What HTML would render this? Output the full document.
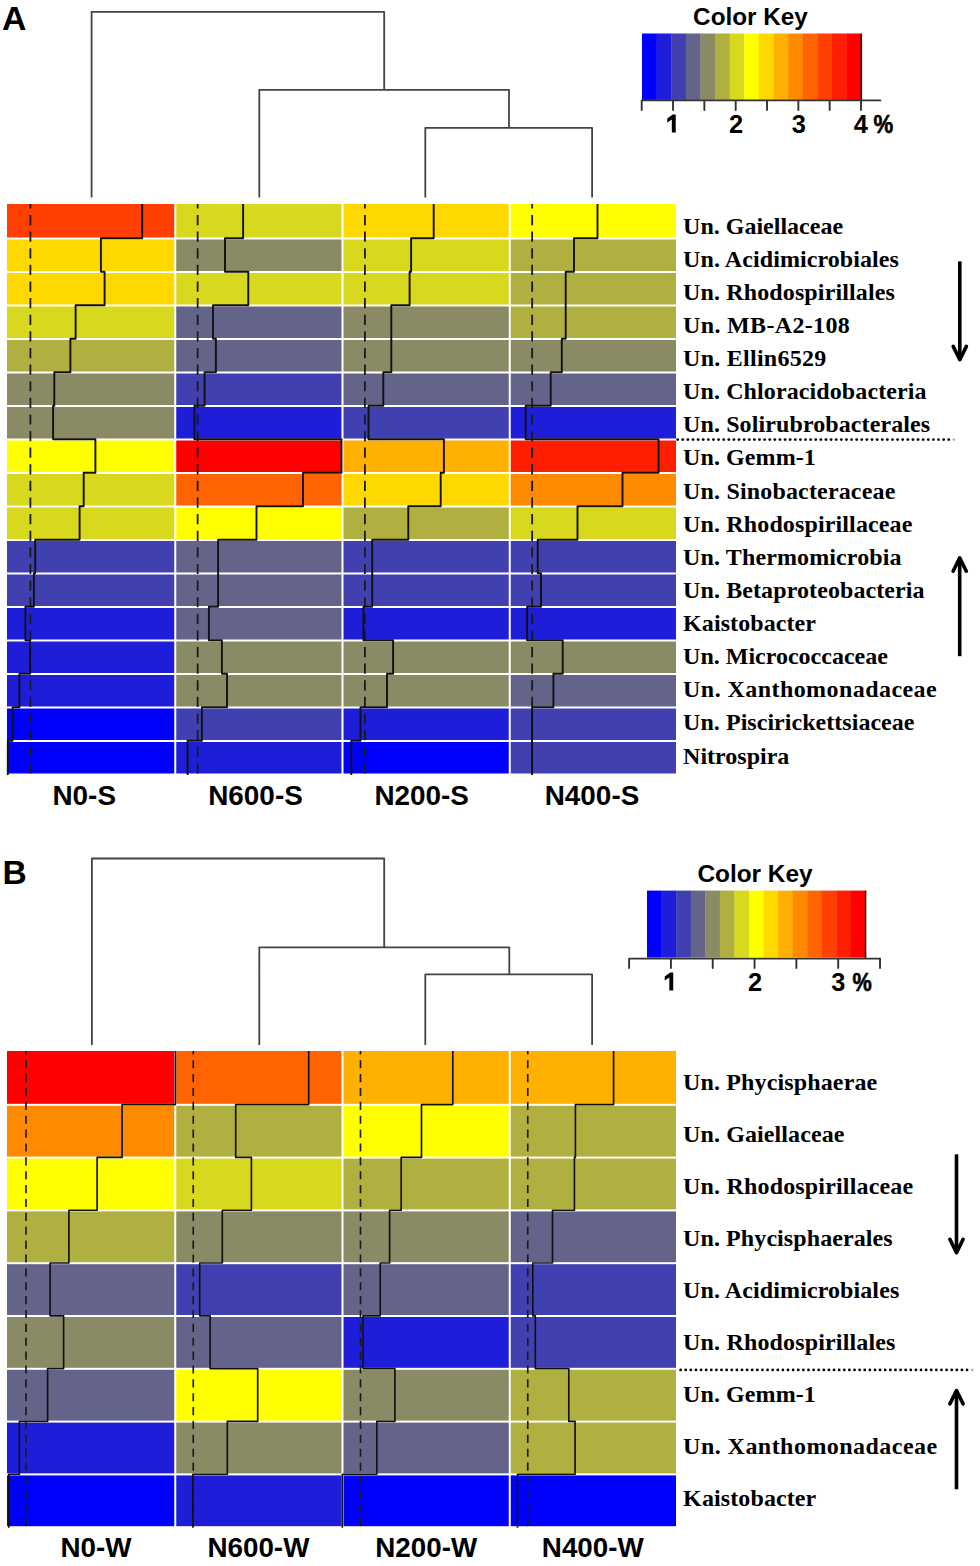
<!DOCTYPE html><html><head><meta charset="utf-8"><title>Heatmap</title>
<style>html,body{margin:0;padding:0;background:#fff;}svg{display:block;}.lab{font-family:"Liberation Serif",serif;font-weight:bold;font-size:24px;fill:#000;}.sans{font-family:"Liberation Sans",sans-serif;font-weight:bold;fill:#000;}</style></head><body>
<svg width="980" height="1566" viewBox="0 0 980 1566">
<rect width="980" height="1566" fill="#fff"/>
<text class="sans" x="2.1" y="29.8" font-size="33.8">A</text>
<text class="sans" x="2.4" y="883.7" font-size="33.6">B</text>
<path d="M91.6 196.5V11.8H384.2V89.9 M259.3 196.5V89.9H509V127.9 M425.3 196.5V127.9H592.1V196.5" stroke="#444" stroke-width="1.8" fill="none" stroke-linecap="square" stroke-linejoin="round"/>
<path d="M91.9 1044V858.5H384.2V947.3 M259.3 1044V947.3H509.3V974.3 M425.3 1044V974.3H592.1V1044" stroke="#444" stroke-width="1.8" fill="none" stroke-linecap="square" stroke-linejoin="round"/>
<rect x="7" y="204" width="167.25" height="33.5" fill="#FF4000"/>
<rect x="7" y="239.5" width="167.25" height="31.5" fill="#FFD800"/>
<rect x="7" y="273" width="167.25" height="31.5" fill="#FFD800"/>
<rect x="7" y="306.5" width="167.25" height="31.5" fill="#D8D81E"/>
<rect x="7" y="340" width="167.25" height="31.5" fill="#B0B040"/>
<rect x="7" y="373.5" width="167.25" height="31.5" fill="#8A8A64"/>
<rect x="7" y="407" width="167.25" height="31.5" fill="#8A8A64"/>
<rect x="7" y="440.5" width="167.25" height="31.5" fill="#FFFF00"/>
<rect x="7" y="474" width="167.25" height="31.5" fill="#D8D81E"/>
<rect x="7" y="507.5" width="167.25" height="31.5" fill="#D8D81E"/>
<rect x="7" y="541" width="167.25" height="31.5" fill="#4040B0"/>
<rect x="7" y="574.5" width="167.25" height="31.5" fill="#4040B0"/>
<rect x="7" y="608" width="167.25" height="31.5" fill="#1E1ED8"/>
<rect x="7" y="641.5" width="167.25" height="31.5" fill="#1E1ED8"/>
<rect x="7" y="675" width="167.25" height="31.5" fill="#1E1ED8"/>
<rect x="7" y="708.5" width="167.25" height="31.5" fill="#0000FF"/>
<rect x="7" y="742" width="167.25" height="31.5" fill="#0000FF"/>
<rect x="176.25" y="204" width="165.25" height="33.5" fill="#D8D81E"/>
<rect x="176.25" y="239.5" width="165.25" height="31.5" fill="#8A8A64"/>
<rect x="176.25" y="273" width="165.25" height="31.5" fill="#D8D81E"/>
<rect x="176.25" y="306.5" width="165.25" height="31.5" fill="#64648A"/>
<rect x="176.25" y="340" width="165.25" height="31.5" fill="#64648A"/>
<rect x="176.25" y="373.5" width="165.25" height="31.5" fill="#4040B0"/>
<rect x="176.25" y="407" width="165.25" height="31.5" fill="#1E1ED8"/>
<rect x="176.25" y="440.5" width="165.25" height="31.5" fill="#FF0000"/>
<rect x="176.25" y="474" width="165.25" height="31.5" fill="#FF6400"/>
<rect x="176.25" y="507.5" width="165.25" height="31.5" fill="#FFFF00"/>
<rect x="176.25" y="541" width="165.25" height="31.5" fill="#64648A"/>
<rect x="176.25" y="574.5" width="165.25" height="31.5" fill="#64648A"/>
<rect x="176.25" y="608" width="165.25" height="31.5" fill="#64648A"/>
<rect x="176.25" y="641.5" width="165.25" height="31.5" fill="#8A8A64"/>
<rect x="176.25" y="675" width="165.25" height="31.5" fill="#8A8A64"/>
<rect x="176.25" y="708.5" width="165.25" height="31.5" fill="#4040B0"/>
<rect x="176.25" y="742" width="165.25" height="31.5" fill="#1E1ED8"/>
<rect x="343.5" y="204" width="165.25" height="33.5" fill="#FFD800"/>
<rect x="343.5" y="239.5" width="165.25" height="31.5" fill="#D8D81E"/>
<rect x="343.5" y="273" width="165.25" height="31.5" fill="#D8D81E"/>
<rect x="343.5" y="306.5" width="165.25" height="31.5" fill="#8A8A64"/>
<rect x="343.5" y="340" width="165.25" height="31.5" fill="#8A8A64"/>
<rect x="343.5" y="373.5" width="165.25" height="31.5" fill="#64648A"/>
<rect x="343.5" y="407" width="165.25" height="31.5" fill="#4040B0"/>
<rect x="343.5" y="440.5" width="165.25" height="31.5" fill="#FFB000"/>
<rect x="343.5" y="474" width="165.25" height="31.5" fill="#FFD800"/>
<rect x="343.5" y="507.5" width="165.25" height="31.5" fill="#B0B040"/>
<rect x="343.5" y="541" width="165.25" height="31.5" fill="#4040B0"/>
<rect x="343.5" y="574.5" width="165.25" height="31.5" fill="#4040B0"/>
<rect x="343.5" y="608" width="165.25" height="31.5" fill="#1E1ED8"/>
<rect x="343.5" y="641.5" width="165.25" height="31.5" fill="#8A8A64"/>
<rect x="343.5" y="675" width="165.25" height="31.5" fill="#8A8A64"/>
<rect x="343.5" y="708.5" width="165.25" height="31.5" fill="#1E1ED8"/>
<rect x="343.5" y="742" width="165.25" height="31.5" fill="#0000FF"/>
<rect x="510.75" y="204" width="165.25" height="33.5" fill="#FFFF00"/>
<rect x="510.75" y="239.5" width="165.25" height="31.5" fill="#B0B040"/>
<rect x="510.75" y="273" width="165.25" height="31.5" fill="#B0B040"/>
<rect x="510.75" y="306.5" width="165.25" height="31.5" fill="#B0B040"/>
<rect x="510.75" y="340" width="165.25" height="31.5" fill="#8A8A64"/>
<rect x="510.75" y="373.5" width="165.25" height="31.5" fill="#64648A"/>
<rect x="510.75" y="407" width="165.25" height="31.5" fill="#1E1ED8"/>
<rect x="510.75" y="440.5" width="165.25" height="31.5" fill="#FF1E00"/>
<rect x="510.75" y="474" width="165.25" height="31.5" fill="#FF8A00"/>
<rect x="510.75" y="507.5" width="165.25" height="31.5" fill="#D8D81E"/>
<rect x="510.75" y="541" width="165.25" height="31.5" fill="#4040B0"/>
<rect x="510.75" y="574.5" width="165.25" height="31.5" fill="#4040B0"/>
<rect x="510.75" y="608" width="165.25" height="31.5" fill="#1E1ED8"/>
<rect x="510.75" y="641.5" width="165.25" height="31.5" fill="#8A8A64"/>
<rect x="510.75" y="675" width="165.25" height="31.5" fill="#64648A"/>
<rect x="510.75" y="708.5" width="165.25" height="31.5" fill="#4040B0"/>
<rect x="510.75" y="742" width="165.25" height="31.5" fill="#4040B0"/>
<path d="M30.4 773.5V204" stroke="#1a1a1a" stroke-width="1.8" stroke-dasharray="10.2 6.415" fill="none"/>
<path d="M197.65 773.5V204" stroke="#1a1a1a" stroke-width="1.8" stroke-dasharray="10.2 6.415" fill="none"/>
<path d="M364.9 773.5V204" stroke="#1a1a1a" stroke-width="1.8" stroke-dasharray="10.2 6.415" fill="none"/>
<path d="M532.15 773.5V204" stroke="#1a1a1a" stroke-width="1.8" stroke-dasharray="10.2 6.415" fill="none"/>
<path d="M7.8 775V740.8H12.6V707.3H19.4V673.8H30V640.3H25.4V606.8H33.9V573.3H35.2V539.8H79.6V506.3H83.7V472.8H95.4V439.3H53.1V405.8H54.3V372.3H70.4V338.8H75.6V305.3H104.6V271.8H100.9V238.3H142.2V204" stroke="#111" stroke-width="1.9" fill="none" stroke-linejoin="round" stroke-linecap="butt"/>
<path d="M187.6 775V740.8H201.9V707.3H227V673.8H221.9V640.3H208.9V606.8H218.1V573.3H218.1V539.8H256.5V506.3H303V472.8H341.5V439.3H194.4V405.8H204.6V372.3H215.9V338.8H213V305.3H248.3V271.8H225V238.3H243.1V204" stroke="#111" stroke-width="1.9" fill="none" stroke-linejoin="round" stroke-linecap="butt"/>
<path d="M351.3 775V740.8H360.5V707.3H387V673.8H393.1V640.3H363.5V606.8H372.2V573.3H372.2V539.8H408.3V506.3H440.7V472.8H443.9V439.3H368.5V405.8H383.3V372.3H391.3V338.8H391.3V305.3H409.6V271.8H411.1V238.3H433.7V204" stroke="#111" stroke-width="1.9" fill="none" stroke-linejoin="round" stroke-linecap="butt"/>
<path d="M532.1 775V740.8H532.1V707.3H553.4V673.8H562.7V640.3H527.1V606.8H541V573.3H537.7V539.8H577.5V506.3H622.5V472.8H658.6V439.3H525.7V405.8H550.7V372.3H561.8V338.8H565.7V305.3H565.7V271.8H574V238.3H597.5V204" stroke="#111" stroke-width="1.9" fill="none" stroke-linejoin="round" stroke-linecap="butt"/>
<rect x="7" y="1051" width="167.25" height="52.8" fill="#FF0000"/>
<rect x="7" y="1105.8" width="167.25" height="50.8" fill="#FF8A00"/>
<rect x="7" y="1158.6" width="167.25" height="50.8" fill="#FFFF00"/>
<rect x="7" y="1211.4" width="167.25" height="50.8" fill="#B0B040"/>
<rect x="7" y="1264.2" width="167.25" height="50.8" fill="#64648A"/>
<rect x="7" y="1317" width="167.25" height="50.8" fill="#8A8A64"/>
<rect x="7" y="1369.8" width="167.25" height="50.8" fill="#64648A"/>
<rect x="7" y="1422.6" width="167.25" height="50.8" fill="#1E1ED8"/>
<rect x="7" y="1475.4" width="167.25" height="50.8" fill="#0000FF"/>
<rect x="176.25" y="1051" width="165.25" height="52.8" fill="#FF6400"/>
<rect x="176.25" y="1105.8" width="165.25" height="50.8" fill="#B0B040"/>
<rect x="176.25" y="1158.6" width="165.25" height="50.8" fill="#D8D81E"/>
<rect x="176.25" y="1211.4" width="165.25" height="50.8" fill="#8A8A64"/>
<rect x="176.25" y="1264.2" width="165.25" height="50.8" fill="#4040B0"/>
<rect x="176.25" y="1317" width="165.25" height="50.8" fill="#64648A"/>
<rect x="176.25" y="1369.8" width="165.25" height="50.8" fill="#FFFF00"/>
<rect x="176.25" y="1422.6" width="165.25" height="50.8" fill="#8A8A64"/>
<rect x="176.25" y="1475.4" width="165.25" height="50.8" fill="#1E1ED8"/>
<rect x="343.5" y="1051" width="165.25" height="52.8" fill="#FFB000"/>
<rect x="343.5" y="1105.8" width="165.25" height="50.8" fill="#FFFF00"/>
<rect x="343.5" y="1158.6" width="165.25" height="50.8" fill="#B0B040"/>
<rect x="343.5" y="1211.4" width="165.25" height="50.8" fill="#8A8A64"/>
<rect x="343.5" y="1264.2" width="165.25" height="50.8" fill="#64648A"/>
<rect x="343.5" y="1317" width="165.25" height="50.8" fill="#1E1ED8"/>
<rect x="343.5" y="1369.8" width="165.25" height="50.8" fill="#8A8A64"/>
<rect x="343.5" y="1422.6" width="165.25" height="50.8" fill="#64648A"/>
<rect x="343.5" y="1475.4" width="165.25" height="50.8" fill="#0000FF"/>
<rect x="510.75" y="1051" width="165.25" height="52.8" fill="#FFB000"/>
<rect x="510.75" y="1105.8" width="165.25" height="50.8" fill="#B0B040"/>
<rect x="510.75" y="1158.6" width="165.25" height="50.8" fill="#B0B040"/>
<rect x="510.75" y="1211.4" width="165.25" height="50.8" fill="#64648A"/>
<rect x="510.75" y="1264.2" width="165.25" height="50.8" fill="#4040B0"/>
<rect x="510.75" y="1317" width="165.25" height="50.8" fill="#4040B0"/>
<rect x="510.75" y="1369.8" width="165.25" height="50.8" fill="#B0B040"/>
<rect x="510.75" y="1422.6" width="165.25" height="50.8" fill="#B0B040"/>
<rect x="510.75" y="1475.4" width="165.25" height="50.8" fill="#0000FF"/>
<path d="M26 1526.2V1051" stroke="#1a1a1a" stroke-width="1.65" stroke-dasharray="8.1 5.776" fill="none"/>
<path d="M193.25 1526.2V1051" stroke="#1a1a1a" stroke-width="1.65" stroke-dasharray="8.1 5.776" fill="none"/>
<path d="M360.5 1526.2V1051" stroke="#1a1a1a" stroke-width="1.65" stroke-dasharray="8.1 5.776" fill="none"/>
<path d="M527.75 1526.2V1051" stroke="#1a1a1a" stroke-width="1.65" stroke-dasharray="8.1 5.776" fill="none"/>
<path d="M8.8 1527.7V1474.2H19.4V1421.4H47.6V1368.6H63.6V1315.8H50.1V1263H68.9V1210.2H97.1V1157.4H122.1V1104.6H175.4V1051" stroke="#111" stroke-width="1.65" fill="none" stroke-linejoin="round" stroke-linecap="butt"/>
<path d="M192.9 1527.7V1474.2H227.3V1421.4H257.7V1368.6H210.1V1315.8H199.7V1263H222.3V1210.2H251.4V1157.4H235.7V1104.6H308.7V1051" stroke="#111" stroke-width="1.65" fill="none" stroke-linejoin="round" stroke-linecap="butt"/>
<path d="M342.3 1527.7V1474.2H376.8V1421.4H394.9V1368.6H363V1315.8H380.2V1263H389.6V1210.2H401.2V1157.4H421.5V1104.6H452.8V1051" stroke="#111" stroke-width="1.65" fill="none" stroke-linejoin="round" stroke-linecap="butt"/>
<path d="M517.5 1527.7V1474.2H575.1V1421.4H568.8V1368.6H535.3V1315.8H532.8V1263H552.5V1210.2H574.4V1157.4H575.4V1104.6H613.6V1051" stroke="#111" stroke-width="1.65" fill="none" stroke-linejoin="round" stroke-linecap="butt"/>
<text class="lab" x="683.1" y="233.5">Un. Gaiellaceae</text>
<text class="lab" x="683.1" y="266.62" textLength="215.83" lengthAdjust="spacing">Un. Acidimicrobiales</text>
<text class="lab" x="683.1" y="299.75" textLength="211.69" lengthAdjust="spacing">Un. Rhodospirillales</text>
<text class="lab" x="683.1" y="332.88" textLength="166.66" lengthAdjust="spacing">Un. MB-A2-108</text>
<text class="lab" x="683.1" y="366" textLength="143.05" lengthAdjust="spacing">Un. Ellin6529</text>
<text class="lab" x="683.1" y="399.12" textLength="243.41" lengthAdjust="spacing">Un. Chloracidobacteria</text>
<text class="lab" x="683.1" y="432.25" textLength="246.99" lengthAdjust="spacing">Un. Solirubrobacterales</text>
<text class="lab" x="683.1" y="465.38" textLength="132.68" lengthAdjust="spacing">Un. Gemm-1</text>
<text class="lab" x="683.1" y="498.5" textLength="212.2" lengthAdjust="spacing">Un. Sinobacteraceae</text>
<text class="lab" x="683.1" y="531.62" textLength="229.29" lengthAdjust="spacing">Un. Rhodospirillaceae</text>
<text class="lab" x="683.1" y="564.75" textLength="218.45" lengthAdjust="spacing">Un. Thermomicrobia</text>
<text class="lab" x="683.1" y="597.88" textLength="241.52" lengthAdjust="spacing">Un. Betaproteobacteria</text>
<text class="lab" x="683.1" y="631" textLength="132.87" lengthAdjust="spacing">Kaistobacter</text>
<text class="lab" x="683.1" y="664.12">Un. Micrococcaceae</text>
<text class="lab" x="683.1" y="697.25" textLength="253.54" lengthAdjust="spacing">Un. Xanthomonadaceae</text>
<text class="lab" x="683.1" y="730.38" textLength="231.39" lengthAdjust="spacing">Un. Piscirickettsiaceae</text>
<text class="lab" x="683.1" y="763.5">Nitrospira</text>
<text class="lab" x="683.1" y="1089.5" textLength="194.1" lengthAdjust="spacing">Un. Phycisphaerae</text>
<text class="lab" x="683.1" y="1141.57" textLength="161.37" lengthAdjust="spacing">Un. Gaiellaceae</text>
<text class="lab" x="683.1" y="1193.64" textLength="229.99" lengthAdjust="spacing">Un. Rhodospirillaceae</text>
<text class="lab" x="683.1" y="1245.71" textLength="209.52" lengthAdjust="spacing">Un. Phycisphaerales</text>
<text class="lab" x="683.1" y="1297.78" textLength="216.13" lengthAdjust="spacing">Un. Acidimicrobiales</text>
<text class="lab" x="683.1" y="1349.85" textLength="212.29" lengthAdjust="spacing">Un. Rhodospirillales</text>
<text class="lab" x="683.1" y="1401.92" textLength="132.68" lengthAdjust="spacing">Un. Gemm-1</text>
<text class="lab" x="683.1" y="1453.99" textLength="254.04" lengthAdjust="spacing">Un. Xanthomonadaceae</text>
<text class="lab" x="683.1" y="1506.06" textLength="133.17" lengthAdjust="spacing">Kaistobacter</text>
<text class="sans" x="84.25" y="804.8" font-size="27.9" text-anchor="middle">N0-S</text>
<text class="sans" x="255.5" y="804.8" font-size="27.9" text-anchor="middle">N600-S</text>
<text class="sans" x="421.7" y="804.8" font-size="27.9" text-anchor="middle">N200-S</text>
<text class="sans" x="592" y="804.8" font-size="27.9" text-anchor="middle">N400-S</text>
<text class="sans" x="96" y="1557.3" font-size="27.8" text-anchor="middle">N0-W</text>
<text class="sans" x="258.4" y="1557.3" font-size="27.8" text-anchor="middle">N600-W</text>
<text class="sans" x="426.25" y="1557.3" font-size="27.8" text-anchor="middle">N200-W</text>
<text class="sans" x="592.8" y="1557.3" font-size="27.8" text-anchor="middle">N400-W</text>
<rect x="642" y="33.5" width="14.91" height="66.4" fill="#0000FF"/>
<rect x="656.61" y="33.5" width="14.91" height="66.4" fill="#1E1ED8"/>
<rect x="671.23" y="33.5" width="14.91" height="66.4" fill="#4040B0"/>
<rect x="685.84" y="33.5" width="14.91" height="66.4" fill="#64648A"/>
<rect x="700.45" y="33.5" width="14.91" height="66.4" fill="#8A8A64"/>
<rect x="715.07" y="33.5" width="14.91" height="66.4" fill="#B0B040"/>
<rect x="729.68" y="33.5" width="14.91" height="66.4" fill="#D8D81E"/>
<rect x="744.29" y="33.5" width="14.91" height="66.4" fill="#FFFF00"/>
<rect x="758.91" y="33.5" width="14.91" height="66.4" fill="#FFD800"/>
<rect x="773.52" y="33.5" width="14.91" height="66.4" fill="#FFB000"/>
<rect x="788.13" y="33.5" width="14.91" height="66.4" fill="#FF8A00"/>
<rect x="802.75" y="33.5" width="14.91" height="66.4" fill="#FF6400"/>
<rect x="817.36" y="33.5" width="14.91" height="66.4" fill="#FF4000"/>
<rect x="831.97" y="33.5" width="14.91" height="66.4" fill="#FF1E00"/>
<rect x="846.59" y="33.5" width="14.91" height="66.4" fill="#FF0000"/>
<path d="M861.3 33.5V100.4" stroke="#1a1a1a" stroke-width="1.5" fill="none"/>
<path d="M641.7 100.4H880.4M641.7 100.4V110M673.03 100.4V110M704.36 100.4V110M735.69 100.4V110M767.02 100.4V110M798.35 100.4V110M829.68 100.4V110M861.01 100.4V110" stroke="#333" stroke-width="1.9" fill="none" stroke-linecap="round"/>
<path d="M675.73 114.4 L675.73 132.5 L671.83 132.5 L671.83 119.5 L667.23 122.6 L667.23 118.6 L672.73 114.4Z" fill="#000"/>
<text class="sans" x="736.09" y="132.5" font-size="25.4" text-anchor="middle">2</text>
<text class="sans" x="798.75" y="132.5" font-size="25.4" text-anchor="middle">3</text>
<text class="sans" x="860.81" y="132.5" font-size="25.4" text-anchor="middle">4</text>
<text class="sans" transform="translate(873.4 132.5) scale(0.88 1)" x="0" y="0" font-size="25.2" stroke="#000" stroke-width="0.6">%</text>
<text class="sans" x="693.1" y="24.7" font-size="24.3">Color Key</text>
<rect x="647" y="890.6" width="14.87" height="67" fill="#0000FF"/>
<rect x="661.57" y="890.6" width="14.87" height="67" fill="#1E1ED8"/>
<rect x="676.13" y="890.6" width="14.87" height="67" fill="#4040B0"/>
<rect x="690.7" y="890.6" width="14.87" height="67" fill="#64648A"/>
<rect x="705.27" y="890.6" width="14.87" height="67" fill="#8A8A64"/>
<rect x="719.83" y="890.6" width="14.87" height="67" fill="#B0B040"/>
<rect x="734.4" y="890.6" width="14.87" height="67" fill="#D8D81E"/>
<rect x="748.97" y="890.6" width="14.87" height="67" fill="#FFFF00"/>
<rect x="763.53" y="890.6" width="14.87" height="67" fill="#FFD800"/>
<rect x="778.1" y="890.6" width="14.87" height="67" fill="#FFB000"/>
<rect x="792.67" y="890.6" width="14.87" height="67" fill="#FF8A00"/>
<rect x="807.23" y="890.6" width="14.87" height="67" fill="#FF6400"/>
<rect x="821.8" y="890.6" width="14.87" height="67" fill="#FF4000"/>
<rect x="836.37" y="890.6" width="14.87" height="67" fill="#FF1E00"/>
<rect x="850.93" y="890.6" width="14.87" height="67" fill="#FF0000"/>
<path d="M865.6 890.6V958.6" stroke="#1a1a1a" stroke-width="1.5" fill="none"/>
<path d="M629.1 958.6H879.9M629.1 958.6V968.1M670.92 958.6V968.1M712.74 958.6V968.1M754.56 958.6V968.1M796.38 958.6V968.1M838.2 958.6V968.1M880.02 958.6V968.1" stroke="#333" stroke-width="1.9" fill="none" stroke-linecap="round"/>
<path d="M673.22 972.4 L673.22 990.5 L669.32 990.5 L669.32 977.5 L664.72 980.6 L664.72 976.6 L670.22 972.4Z" fill="#000"/>
<text class="sans" x="754.96" y="990.5" font-size="25.4" text-anchor="middle">2</text>
<text class="sans" x="838.4" y="990.5" font-size="25.4" text-anchor="middle">3</text>
<text class="sans" transform="translate(852.4 990.5) scale(0.86 1)" x="0" y="0" font-size="25.2" stroke="#000" stroke-width="0.6">%</text>
<text class="sans" x="697.4" y="881.6" font-size="24.4">Color Key</text>
<g fill="#000"><circle cx="677.65" cy="439.6" r="1.4"/><circle cx="682.76" cy="439.6" r="1.4"/><circle cx="687.88" cy="439.6" r="1.4"/><circle cx="693" cy="439.6" r="1.4"/><circle cx="698.11" cy="439.6" r="1.4"/><circle cx="703.23" cy="439.6" r="1.4"/><circle cx="708.34" cy="439.6" r="1.4"/><circle cx="713.45" cy="439.6" r="1.4"/><circle cx="718.57" cy="439.6" r="1.4"/><circle cx="723.68" cy="439.6" r="1.4"/><circle cx="728.8" cy="439.6" r="1.4"/><circle cx="733.91" cy="439.6" r="1.4"/><circle cx="739.03" cy="439.6" r="1.4"/><circle cx="744.14" cy="439.6" r="1.4"/><circle cx="749.26" cy="439.6" r="1.4"/><circle cx="754.38" cy="439.6" r="1.4"/><circle cx="759.49" cy="439.6" r="1.4"/><circle cx="764.61" cy="439.6" r="1.4"/><circle cx="769.72" cy="439.6" r="1.4"/><circle cx="774.84" cy="439.6" r="1.4"/><circle cx="779.95" cy="439.6" r="1.4"/><circle cx="785.06" cy="439.6" r="1.4"/><circle cx="790.18" cy="439.6" r="1.4"/><circle cx="795.29" cy="439.6" r="1.4"/><circle cx="800.41" cy="439.6" r="1.4"/><circle cx="805.52" cy="439.6" r="1.4"/><circle cx="810.64" cy="439.6" r="1.4"/><circle cx="815.75" cy="439.6" r="1.4"/><circle cx="820.87" cy="439.6" r="1.4"/><circle cx="825.99" cy="439.6" r="1.4"/><circle cx="831.1" cy="439.6" r="1.4"/><circle cx="836.21" cy="439.6" r="1.4"/><circle cx="841.33" cy="439.6" r="1.4"/><circle cx="846.44" cy="439.6" r="1.4"/><circle cx="851.56" cy="439.6" r="1.4"/><circle cx="856.67" cy="439.6" r="1.4"/><circle cx="861.79" cy="439.6" r="1.4"/><circle cx="866.9" cy="439.6" r="1.4"/><circle cx="872.02" cy="439.6" r="1.4"/><circle cx="877.13" cy="439.6" r="1.4"/><circle cx="882.25" cy="439.6" r="1.4"/><circle cx="887.37" cy="439.6" r="1.4"/><circle cx="892.48" cy="439.6" r="1.4"/><circle cx="897.6" cy="439.6" r="1.4"/><circle cx="902.71" cy="439.6" r="1.4"/><circle cx="907.83" cy="439.6" r="1.4"/><circle cx="912.94" cy="439.6" r="1.4"/><circle cx="918.05" cy="439.6" r="1.4"/><circle cx="923.17" cy="439.6" r="1.4"/><circle cx="928.28" cy="439.6" r="1.4"/><circle cx="933.4" cy="439.6" r="1.4"/><circle cx="938.51" cy="439.6" r="1.4"/><circle cx="943.63" cy="439.6" r="1.4"/><circle cx="948.75" cy="439.6" r="1.4"/></g>
<circle cx="953.86" cy="439.6" r="1.4" fill="#000" opacity="0.3"/>
<g fill="#000"><circle cx="680.6" cy="1369.9" r="1.4"/><circle cx="685.72" cy="1369.9" r="1.4"/><circle cx="690.83" cy="1369.9" r="1.4"/><circle cx="695.95" cy="1369.9" r="1.4"/><circle cx="701.06" cy="1369.9" r="1.4"/><circle cx="706.18" cy="1369.9" r="1.4"/><circle cx="711.29" cy="1369.9" r="1.4"/><circle cx="716.4" cy="1369.9" r="1.4"/><circle cx="721.52" cy="1369.9" r="1.4"/><circle cx="726.63" cy="1369.9" r="1.4"/><circle cx="731.75" cy="1369.9" r="1.4"/><circle cx="736.87" cy="1369.9" r="1.4"/><circle cx="741.98" cy="1369.9" r="1.4"/><circle cx="747.1" cy="1369.9" r="1.4"/><circle cx="752.21" cy="1369.9" r="1.4"/><circle cx="757.33" cy="1369.9" r="1.4"/><circle cx="762.44" cy="1369.9" r="1.4"/><circle cx="767.56" cy="1369.9" r="1.4"/><circle cx="772.67" cy="1369.9" r="1.4"/><circle cx="777.79" cy="1369.9" r="1.4"/><circle cx="782.9" cy="1369.9" r="1.4"/><circle cx="788.01" cy="1369.9" r="1.4"/><circle cx="793.13" cy="1369.9" r="1.4"/><circle cx="798.25" cy="1369.9" r="1.4"/><circle cx="803.36" cy="1369.9" r="1.4"/><circle cx="808.48" cy="1369.9" r="1.4"/><circle cx="813.59" cy="1369.9" r="1.4"/><circle cx="818.71" cy="1369.9" r="1.4"/><circle cx="823.82" cy="1369.9" r="1.4"/><circle cx="828.94" cy="1369.9" r="1.4"/><circle cx="834.05" cy="1369.9" r="1.4"/><circle cx="839.16" cy="1369.9" r="1.4"/><circle cx="844.28" cy="1369.9" r="1.4"/><circle cx="849.39" cy="1369.9" r="1.4"/><circle cx="854.51" cy="1369.9" r="1.4"/><circle cx="859.62" cy="1369.9" r="1.4"/><circle cx="864.74" cy="1369.9" r="1.4"/><circle cx="869.86" cy="1369.9" r="1.4"/><circle cx="874.97" cy="1369.9" r="1.4"/><circle cx="880.09" cy="1369.9" r="1.4"/><circle cx="885.2" cy="1369.9" r="1.4"/><circle cx="890.32" cy="1369.9" r="1.4"/><circle cx="895.43" cy="1369.9" r="1.4"/><circle cx="900.55" cy="1369.9" r="1.4"/><circle cx="905.66" cy="1369.9" r="1.4"/><circle cx="910.78" cy="1369.9" r="1.4"/><circle cx="915.89" cy="1369.9" r="1.4"/><circle cx="921" cy="1369.9" r="1.4"/><circle cx="926.12" cy="1369.9" r="1.4"/><circle cx="931.24" cy="1369.9" r="1.4"/><circle cx="936.35" cy="1369.9" r="1.4"/><circle cx="941.47" cy="1369.9" r="1.4"/><circle cx="946.58" cy="1369.9" r="1.4"/><circle cx="951.7" cy="1369.9" r="1.4"/><circle cx="956.81" cy="1369.9" r="1.4"/><circle cx="961.92" cy="1369.9" r="1.4"/><circle cx="967.04" cy="1369.9" r="1.4"/></g>
<circle cx="972.15" cy="1369.9" r="1.4" fill="#000" opacity="0.3"/>
<path d="M959.8 261.4V359.7" stroke="#000" stroke-width="3.6" fill="none" stroke-linecap="butt"/>
<path d="M953.2 346.4L959.8 359.7L966.4 346.4" stroke="#000" stroke-width="3.6" fill="none" stroke-linecap="round" stroke-linejoin="round"/>
<path d="M959.7 656.2V557.9" stroke="#000" stroke-width="3.6" fill="none" stroke-linecap="butt"/>
<path d="M953.1 571.2L959.7 557.9L966.3 571.2" stroke="#000" stroke-width="3.6" fill="none" stroke-linecap="round" stroke-linejoin="round"/>
<path d="M956.5 1154.3V1252.6" stroke="#000" stroke-width="3.6" fill="none" stroke-linecap="butt"/>
<path d="M949.9 1239.3L956.5 1252.6L963.1 1239.3" stroke="#000" stroke-width="3.6" fill="none" stroke-linecap="round" stroke-linejoin="round"/>
<path d="M956.5 1489.3V1390.6" stroke="#000" stroke-width="3.6" fill="none" stroke-linecap="butt"/>
<path d="M949.9 1403.9L956.5 1390.6L963.1 1403.9" stroke="#000" stroke-width="3.6" fill="none" stroke-linecap="round" stroke-linejoin="round"/>
</svg></body></html>
